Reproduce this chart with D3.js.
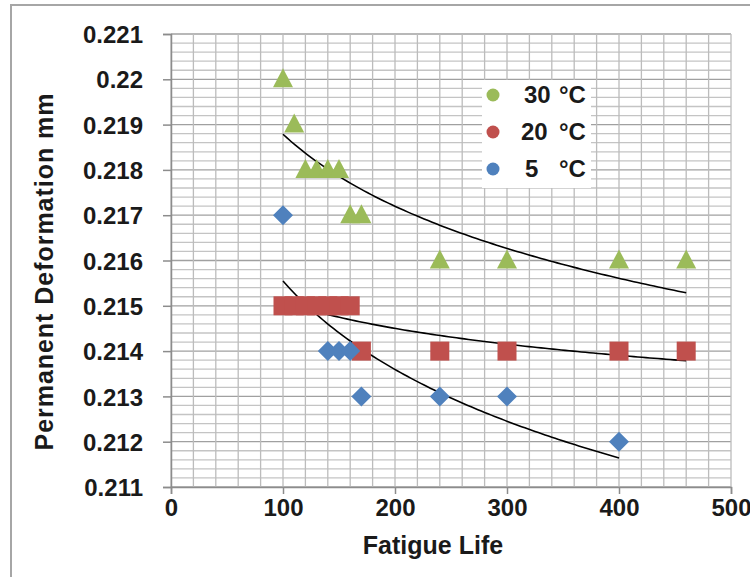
<!DOCTYPE html>
<html><head><meta charset="utf-8">
<script src="https://cdn.jsdelivr.net/npm/d3@7"></script>
<style>
html,body{margin:0;padding:0;background:#fff;}
text{font-family:"Liberation Sans",Arial,sans-serif;font-weight:bold;fill:#1a1a1a;}
</style></head>
<body><svg id="c" width="750" height="577"></svg>
<script>
// ---- data ----
const series30x = [100,110,120,130,140,150,160,170,240,300,400,460];
const series30y = [0.220,0.219,0.218,0.218,0.218,0.218,0.217,0.217,0.216,0.216,0.216,0.216];
const series20x = [100,110,120,130,140,150,160,170,240,300,400,460];
const series20y = [0.215,0.215,0.215,0.215,0.215,0.215,0.215,0.214,0.214,0.214,0.214,0.214];
const series5x  = [100,140,150,160,170,240,300,400];
const series5y  = [0.217,0.214,0.214,0.214,0.213,0.213,0.213,0.212];
const legendNums = ["30","20","5"];
const legendUnit = "\u00B0C";
const xTicks = [0,100,200,300,400,500];
const yTicks = [0.211,0.212,0.213,0.214,0.215,0.216,0.217,0.218,0.219,0.220,0.221];
const xTitle = "Fatigue Life";
const yTitle = "Permanent Deformation  mm";

const svg = d3.select("#c");
const L=171, R=731, T=34, B=487;
const x = d3.scaleLinear().domain([0,500]).range([L,R]);
const y = d3.scaleLinear().domain([0.211,0.221]).range([B,T]);

// outer frame
svg.append("rect").attr("x",11).attr("y",5).attr("width",800).attr("height",700)
  .attr("fill","none").attr("stroke","#a6a6a6").attr("stroke-width",2);

// grid
const g = svg.append("g");
d3.range(0,51).forEach(i=>{
  const v=0.211+i*0.0002; const yy=y(v);
  g.append("line").attr("x1",L).attr("x2",R).attr("y1",yy).attr("y2",yy)
   .attr("stroke", i%5===0 ? "#a0a0a0" : "#c4c4c4").attr("stroke-width",1.3);
});
d3.range(0,26).forEach(i=>{
  const xx=x(i*20);
  g.append("line").attr("x1",xx).attr("x2",xx).attr("y1",T).attr("y2",B)
   .attr("stroke", "#bcbcbc").attr("stroke-width",1.3);
});

// axes
const yAxis = d3.axisLeft(y).tickValues(yTicks).tickSize(8).tickFormat(d=>d3.format("")(+d.toFixed(3)));
const ya = svg.append("g").attr("transform",`translate(${L},0)`).call(yAxis);
ya.select(".domain").attr("stroke","#8c8c8c").attr("stroke-width",1.5);
ya.selectAll(".tick line").attr("stroke","#8c8c8c").attr("stroke-width",1.5);
ya.selectAll(".tick text").attr("x",-28).attr("font-size",24).attr("dy","0.36em")
  .attr("font-family","Liberation Sans, Arial, sans-serif").attr("font-weight","bold").attr("fill","#1a1a1a");

const xAxis = d3.axisBottom(x).tickValues(xTicks).tickSize(7);
const xa = svg.append("g").attr("transform",`translate(0,${B})`).call(xAxis);
xa.select(".domain").attr("stroke","#8c8c8c").attr("stroke-width",1.5);
xa.selectAll(".tick line").attr("stroke","#8c8c8c").attr("stroke-width",1.5);
xa.selectAll(".tick text").attr("y",12).attr("font-size",24).attr("dy","0.71em")
  .attr("font-family","Liberation Sans, Arial, sans-serif").attr("font-weight","bold").attr("fill","#1a1a1a");

// titles
svg.append("text").attr("x",433).attr("y",554).attr("text-anchor","middle").attr("font-size",25).text(xTitle);
svg.append("text").attr("transform","translate(53,272) rotate(-90)").attr("text-anchor","middle")
  .attr("font-size",25).attr("textLength",357).text(yTitle);

// trendlines (logarithmic least-squares fit, as Excel)
function logFit(xs,ys){
  const lx=xs.map(Math.log);
  const mx=d3.mean(lx), my=d3.mean(ys);
  let sxy=0,sxx=0; lx.forEach((v,i)=>{sxy+=(v-mx)*(ys[i]-my);sxx+=(v-mx)*(v-mx);});
  const b=sxy/sxx, a=my-b*mx; return v=>a+b*Math.log(v);
}
const line = d3.line().x(d=>x(d[0])).y(d=>y(d[1]));
[[series30x,series30y],[series20x,series20y],[series5x,series5y]].forEach(([xs,ys])=>{
  const f=logFit(xs,ys); const lo=d3.min(xs), hi=d3.max(xs);
  const pts=d3.range(0,101).map(i=>{const v=lo+(hi-lo)*i/100;return [v,f(v)];});
  svg.append("path").attr("d",line(pts)).attr("fill","none").attr("stroke","#000").attr("stroke-width",1.6);
});

// markers
const green="#9BBB59", red="#C0504D", blue="#4F81BD";
svg.append("g").selectAll("path").data(series30x.map((v,i)=>[v,series30y[i]])).join("path")
  .attr("d","M0,-11L10,8L-10,8Z").attr("transform",d=>`translate(${x(d[0])},${y(d[1])})`).attr("fill",green);
svg.append("g").selectAll("rect").data(series20x.map((v,i)=>[v,series20y[i]])).join("rect")
  .attr("x",d=>x(d[0])-9.5).attr("y",d=>y(d[1])-9.5).attr("width",19).attr("height",19).attr("fill",red);
svg.append("g").selectAll("path").data(series5x.map((v,i)=>[v,series5y[i]])).join("path")
  .attr("d","M0,-10L10,0L0,10L-10,0Z").attr("transform",d=>`translate(${x(d[0])},${y(d[1])})`).attr("fill",blue);

// legend
svg.append("rect").attr("x",482).attr("y",80).attr("width",109).attr("height",108).attr("fill","#fff");
const ly=[95,132,169], lc=[green,red,blue], lx=[524,521,525];
legendNums.forEach((t,i)=>{
  svg.append("circle").attr("cx",493).attr("cy",ly[i]).attr("r",6.5).attr("fill",lc[i]);
  const tx=svg.append("text").attr("y",ly[i]+8).attr("font-size",24);
  tx.append("tspan").attr("x",lx[i]).text(t+" ");
  tx.append("tspan").attr("x",559).text(legendUnit);
});
</script></body></html>
